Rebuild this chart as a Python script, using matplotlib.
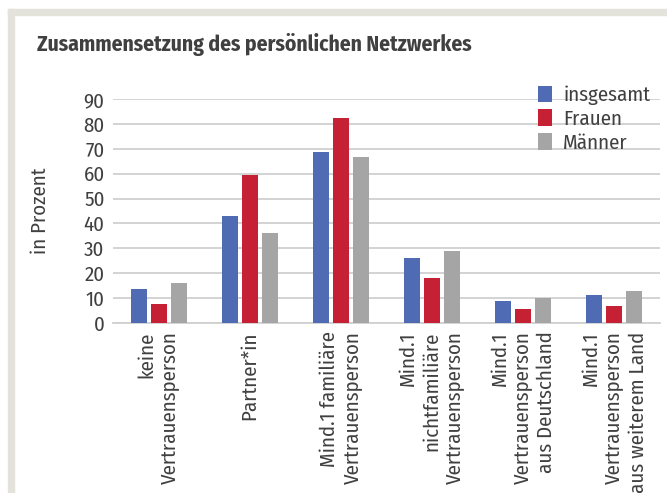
import matplotlib.pyplot as plt
from matplotlib.patches import Rectangle
import numpy as np

categories = ["keine\nVertrauensperson", "Partner*in",
              "Mind.1 familiäre\nVertrauensperson",
              "Mind.1\nnichtfamiliäre\nVertrauensperson",
              "Mind.1\nVertrauensperson\naus Deutschland",
              "Mind.1\nVertrauensperson\naus weiterem Land"]
series = ["insgesamt", "Frauen", "Männer"]
insgesamt = [13.7, 42.8, 68.6, 26.0, 8.7, 11.1]
frauen = [7.5, 59.6, 82.3, 18.1, 5.6, 6.8]
maenner = [16.2, 36.3, 66.7, 29.1, 9.9, 12.9]
colors = ["#4f6bb4", "#c52034", "#a5a5a5"]

plt.rcParams['font.family'] = ['Fira Sans Condensed', 'Open Sans', 'DejaVu Sans']
plt.rcParams['font.weight'] = 'normal'
txt = "#404040"

fig = plt.figure(figsize=(6.67, 4.93), dpi=100)
# gray L-shaped frame
fig.patches.append(Rectangle((8/667, 0), 6/667, 1 - 9/493, transform=fig.transFigure,
                             color="#e3e3dc", zorder=0))
fig.patches.append(Rectangle((8/667, 1 - 15/493), 1, 6/493, transform=fig.transFigure,
                             color="#e3e3dc", zorder=0))

ax = fig.add_axes([113/667, 1 - 323/493, 547/667, 224/493])
x = np.arange(len(categories))
w = 0.175
step = 0.22
for i, (vals, name) in enumerate(zip([insgesamt, frauen, maenner], series)):
    ax.bar(x + (i - 1) * step, vals, w, color=colors[i], label=name, zorder=3)

ax.set_xlim(-0.5, len(categories) - 0.5)
ax.set_ylim(0, 90)
ax.set_yticks(range(0, 91, 10))
ax.yaxis.grid(True, color="#d0d0d0", linewidth=1.3, zorder=0)
ax.set_axisbelow(True)
for s in ["top", "right", "left"]:
    ax.spines[s].set_visible(False)
ax.spines["bottom"].set_color("#d0d0d0")
ax.spines["bottom"].set_linewidth(1.3)
ax.tick_params(length=0, labelsize=15, colors=txt, pad=6)
ax.set_xticks(x)
ax.set_xticklabels(categories, rotation=90, ha="center", va="top",
                   multialignment="right", fontsize=15, color=txt,
                   linespacing=1.25)
ax.set_ylabel("in Prozent", fontsize=15, color=txt, labelpad=24)

leg = ax.legend(loc="upper left", bbox_to_anchor=(417/547, 1.097), frameon=False,
                fontsize=15, handlelength=0.65, handleheight=0.85,
                handletextpad=0.55, labelspacing=0.2, borderaxespad=0)
for t in leg.get_texts():
    t.set_color(txt)

fig.text(37/667, 1 - 44/493, "Zusammensetzung des persönlichen Netzwerkes",
         fontsize=15.5, fontweight="bold", color=txt, va="center", ha="left")

fig.savefig("out.png", dpi=100)
